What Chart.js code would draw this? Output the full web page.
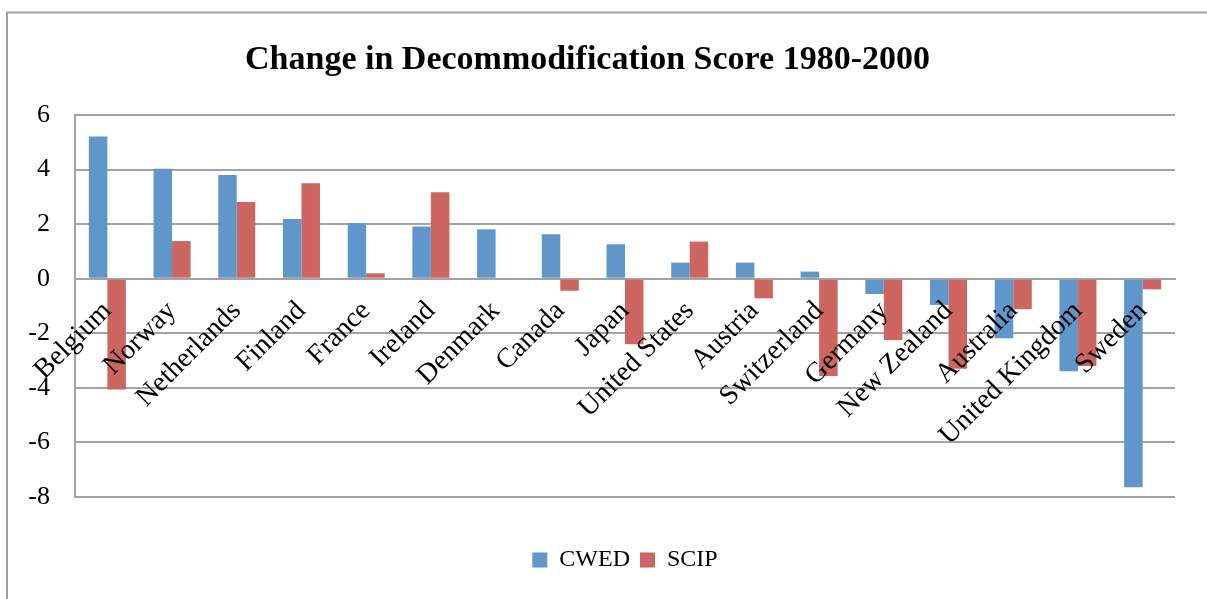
<!DOCTYPE html>
<html>
<head>
<meta charset="utf-8">
<script src="https://cdn.jsdelivr.net/npm/chart.js@4/dist/chart.umd.min.js"></script>
<style>
html,body{margin:0;padding:0;background:#fff;}
#wrap{position:relative;width:1207px;height:599px;}
</style>
</head>
<body>
<div id="wrap"><canvas id="c" width="1207" height="599"></canvas></div>
<script>
const categories = ["Belgium","Norway","Netherlands","Finland","France","Ireland","Denmark","Canada","Japan","United States","Austria","Switzerland","Germany","New Zealand","Australia","United Kingdom","Sweden"];
const cwed = [5.21, 4.03, 3.80, 2.19, 2.03, 1.91, 1.81, 1.63, 1.26, 0.59, 0.59, 0.26, -0.56, -0.96, -2.18, -3.39, -7.64];
const scip = [-4.06, 1.38, 2.81, 3.50, 0.20, 3.17, 0.00, -0.44, -2.40, 1.36, -0.72, -3.57, -2.25, -3.30, -1.12, -3.20, -0.39];
const yTicks = [-8, -6, -4, -2, 0, 2, 4, 6];
const titleText = "Change in Decommodification Score 1980-2000";

const FONT = "'Liberation Serif', 'Times New Roman', serif";
const GRID = '#a3a3a3';

const frame = {
  id: 'frame',
  afterDraw(chart) {
    const ctx = chart.ctx;
    ctx.save();
    ctx.strokeStyle = '#a0a0a0';
    ctx.lineWidth = 2;
    ctx.beginPath();
    ctx.moveTo(7, 599);
    ctx.lineTo(7, 12.5);
    ctx.lineTo(1207, 12.5);
    ctx.stroke();
    ctx.restore();
  }
};

new Chart(document.getElementById('c'), {
  type: 'bar',
  data: {
    labels: categories,
    datasets: [
      { label: 'CWED', data: cwed, backgroundColor: '#6096c9', borderWidth: 0, xAxisID: 'x' },
      { label: 'SCIP', data: scip, backgroundColor: '#cd6560', borderWidth: 0, xAxisID: 'x' }
    ]
  },
  options: {
    responsive: false,
    animation: false,
    devicePixelRatio: 1,
    layout: { padding: { left: 0, right: 32, top: 0, bottom: 17 } },
    datasets: { bar: { categoryPercentage: 0.572, barPercentage: 1.0 } },
    plugins: {
      title: {
        display: true,
        text: titleText,
        color: '#000',
        font: { family: FONT, size: 34, weight: 'bold', lineHeight: 1.2 },
        padding: { top: 39.6, bottom: 34.6 }
      },
      legend: {
        position: 'bottom',
        fullSize: false,
        labels: {
          color: '#000',
          font: { family: FONT, size: 24 },
          boxWidth: 15,
          boxHeight: 15,
          padding: 10
        }
      },
      tooltip: { enabled: false }
    },
    scales: {
      x: {
        type: 'category',
        position: { y: 0 },
        grid: { display: false, drawTicks: false },
        border: { display: true, color: GRID, width: 2 },
        ticks: {
          z: 1,
          color: '#000',
          font: { family: FONT, size: 28 },
          minRotation: 45,
          maxRotation: 45,
          autoSkip: false,
          padding: 16
        }
      },
      xb: {
        type: 'category',
        position: 'bottom',
        display: true,
        grid: { display: false, drawTicks: false },
        border: { display: false },
        ticks: { display: false },
        afterFit(s) { s.height = 41; }
      },
      y: {
        min: -8,
        max: 6,
        afterBuildTicks(s) { s.ticks = yTicks.map(v => ({ value: v })); },
        grid: { color: GRID, lineWidth: 2, drawTicks: false },
        border: { display: true, color: GRID, width: 2 },
        ticks: {
          color: '#000',
          font: { family: FONT, size: 26 },
          padding: 25
        },
        afterFit(s) { s.width = 75; }
      }
    }
  },
  plugins: [frame]
});
</script>
</body>
</html>
